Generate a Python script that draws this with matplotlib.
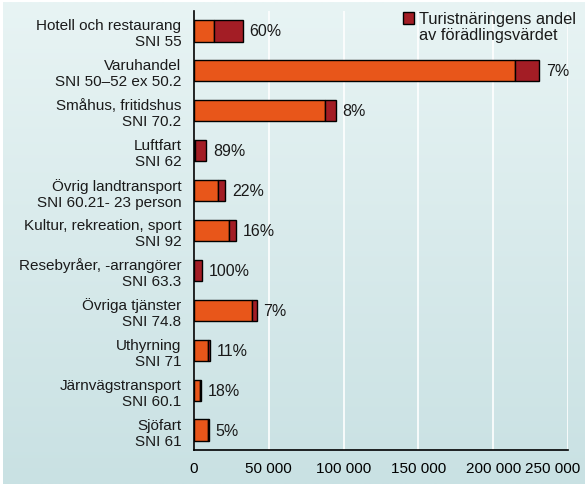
import numpy as np
import matplotlib.pyplot as plt
import matplotlib.transforms as mtrans
from matplotlib.patches import Rectangle
from matplotlib.ticker import FuncFormatter

plt.rcParams['font.family'] = ['Liberation Sans', 'DejaVu Sans']

branscher = ["Hotell och restaurang\nSNI 55", "Varuhandel\nSNI 50–52 ex 50.2",
             "Småhus, fritidshus\nSNI 70.2", "Luftfart\nSNI 62",
             "Övrig landtransport\nSNI 60.21- 23 person", "Kultur, rekreation, sport\nSNI 92",
             "Resebyråer, -arrangörer\nSNI 63.3", "Övriga tjänster\nSNI 74.8",
             "Uthyrning\nSNI 71", "Järnvägstransport\nSNI 60.1", "Sjöfart\nSNI 61"]
# ovrigt = non-tourism part, turism = tourism share
ovrigt = [13100, 214700, 87300, 900, 16300, 23700, 0, 39000, 9300, 3800, 9500]
turism = [19600, 16200, 7600, 7400, 4600, 4500, 5600, 2900, 1200, 850, 500]
andel = ["60%", "7%", "8%", "89%", "22%", "16%", "100%", "7%", "11%", "18%", "5%"]

orange = "#e8561a"
morkrod = "#a31d25"
W, H = 585, 485

fig = plt.figure(figsize=(W / 100, H / 100), dpi=100, facecolor="white")

# background gradient, thin white edge on left and top
bg = fig.add_axes([3 / W, 0, 1 - 3 / W, 1 - 3 / H])
grad = np.linspace(0, 1, 256).reshape(-1, 1)
top = np.array([232, 244, 244]) / 255
bot = np.array([201, 225, 227]) / 255
img = top + (bot - top) * grad[:, :, None]
bg.imshow(img, aspect="auto", extent=[0, 1, 0, 1], interpolation="bilinear")
bg.set_axis_off()

ax = fig.add_axes([194 / W, 1 - 451 / H, (568 - 194) / W, (451 - 12) / H])
ax.patch.set_alpha(0)
y = np.arange(len(branscher))
ax.barh(y, ovrigt, height=0.53, color=orange, edgecolor="black", linewidth=1, zorder=3)
ax.barh(y, turism, left=ovrigt, height=0.53, color=morkrod, edgecolor="black",
        linewidth=1, zorder=3)

for i in range(len(branscher)):
    ax.text(ovrigt[i] + turism[i] + 4500, y[i], andel[i], va="center", ha="left",
            fontsize=11.5, color="#1a1a1a")

ax.set_ylim(10.5, -0.5)
ax.set_xlim(0, 250000)
ax.set_xticks(range(0, 250001, 50000))
ax.xaxis.set_major_formatter(FuncFormatter(lambda v, p: f"{int(v):,}".replace(",", " ")))
ax.set_yticks(y)
ax.set_yticklabels(branscher, fontsize=11, color="#1a1a1a", linespacing=1.18)
ax.tick_params(length=0, pad=9)
ax.tick_params(axis="x", labelsize=11, pad=8)
ax.grid(axis="x", color="white", linewidth=1.2, zorder=0)
for s in ["top", "right"]:
    ax.spines[s].set_visible(False)
ax.spines["left"].set_linewidth(1.2)
ax.spines["bottom"].set_linewidth(1.2)

fig.canvas.draw()
last = ax.get_xticklabels()[-1]
last.set_horizontalalignment("right")
last.set_transform(last.get_transform() + mtrans.ScaledTranslation(0.12, 0, fig.dpi_scale_trans))

# legend drawn by hand so the square lines up with the first text row
fig.patches.append(Rectangle((403 / W, 1 - 25 / H), 11 / W, 12 / H, transform=fig.transFigure,
                             facecolor=morkrod, edgecolor="black", linewidth=1))
fig.text(419 / W, 1 - 12 / H, "Turistnäringens andel\nav förädlingsvärdet", ha="left", va="top",
         fontsize=11.8, color="#1a1a1a", linespacing=1.1)

fig.savefig("out.png", dpi=100)
